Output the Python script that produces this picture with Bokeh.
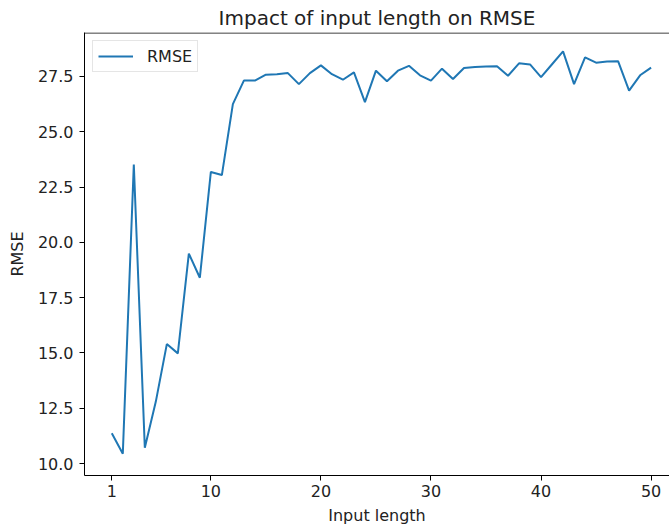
from bokeh.plotting import figure
from bokeh.models import (Range1d, FixedTicker, PrintfTickFormatter, Legend, LegendItem, Span)
from bokeh.embed import file_html
from bokeh.resources import INLINE

# ---- data ----
input_lengths = [1, 2, 3, 4, 5, 6, 7, 8, 9, 10,
                 11, 12, 13, 14, 15, 16, 17, 18, 19, 20,
                 21, 22, 23, 24, 25, 26, 27, 28, 29, 30,
                 31, 32, 33, 34, 35, 36, 37, 38, 39, 40,
                 41, 42, 43, 44, 45, 46, 47, 48, 49, 50]
rmse = [11.37, 10.44, 23.52, 10.71, 12.80, 15.40, 14.98, 19.49, 18.40, 23.18,
        23.04, 26.25, 27.31, 27.31, 27.58, 27.60, 27.65, 27.15, 27.65, 28.00,
        27.60, 27.35, 27.68, 26.34, 27.76, 27.28, 27.76, 27.98, 27.55, 27.31,
        27.85, 27.38, 27.88, 27.92, 27.95, 27.96, 27.53, 28.09, 28.04, 27.47,
        28.05, 28.63, 27.15, 28.36, 28.12, 28.17, 28.19, 26.86, 27.55, 27.90]
x_ticks = [1, 10, 20, 30, 40, 50]
y_ticks = [10.0, 12.5, 15.0, 17.5, 20.0, 22.5, 25.0, 27.5]
title_text = "Impact of input length on RMSE"
x_label = "Input length"
y_label = "RMSE"
series_name = "RMSE"

FONT = "DejaVu Sans"
X_START, X_END = -1.4805, 51.672
Y_START, Y_END = 9.459, 29.485

p = figure(width=669, height=528, output_backend="svg", toolbar_location=None,
           x_range=Range1d(X_START, X_END), y_range=Range1d(Y_START, Y_END),
           min_border_left=84, min_border_right=0, min_border_top=31, min_border_bottom=53)
p.outline_line_color = None
p.xgrid.visible = False
p.ygrid.visible = False
p.background_fill_color = "white"
p.border_fill_color = "white"

p.title.text = title_text
p.title.align = "center"
p.title.text_font = FONT
p.title.text_font_size = "20px"
p.title.text_font_style = "normal"
p.title.text_color = "#222222"
p.title.standoff = 6
p.title.offset = 4

line = p.line(input_lengths, rmse, line_color="#1f77b4", line_width=2)

for ax in (p.xaxis[0], p.yaxis[0]):
    ax.axis_line_color = "black"
    ax.axis_line_width = 1
    ax.major_tick_line_color = "black"
    ax.major_tick_out = 5
    ax.major_tick_in = 0
    ax.minor_tick_line_color = None
    ax.major_label_text_font = FONT
    ax.major_label_text_font_size = "16px"
    ax.major_label_text_color = "#222222"
    ax.axis_label_text_font = FONT
    ax.axis_label_text_font_size = "16px"
    ax.axis_label_text_font_style = "normal"
    ax.axis_label_text_color = "#222222"

p.xaxis[0].ticker = FixedTicker(ticks=x_ticks)
p.xaxis[0].axis_label = x_label
p.xaxis[0].major_label_standoff = 4
p.xaxis[0].axis_label_standoff = 6

p.yaxis[0].ticker = FixedTicker(ticks=y_ticks)
p.yaxis[0].formatter = PrintfTickFormatter(format="%.1f")
p.yaxis[0].axis_label = y_label
p.yaxis[0].major_label_standoff = 6
p.yaxis[0].axis_label_standoff = 8

# top spine (matplotlib box top; right spine falls outside the picture)
top_spine = Span(location=Y_END - 0.5 / 22.17, dimension="width",
                 line_color="black", line_width=1)
p.add_layout(top_spine)

legend = Legend(items=[LegendItem(label=series_name, renderers=[line])],
                location="top_left", margin=8, padding=5, spacing=0,
                glyph_width=35, glyph_height=20, label_standoff=14,
                label_text_font=FONT, label_text_font_size="16px", label_text_color="#222222",
                border_line_color="#cccccc", border_line_width=1,
                background_fill_color="white", background_fill_alpha=0.8)
p.add_layout(legend)

open("out.html", "w").write(file_html(p, INLINE))
